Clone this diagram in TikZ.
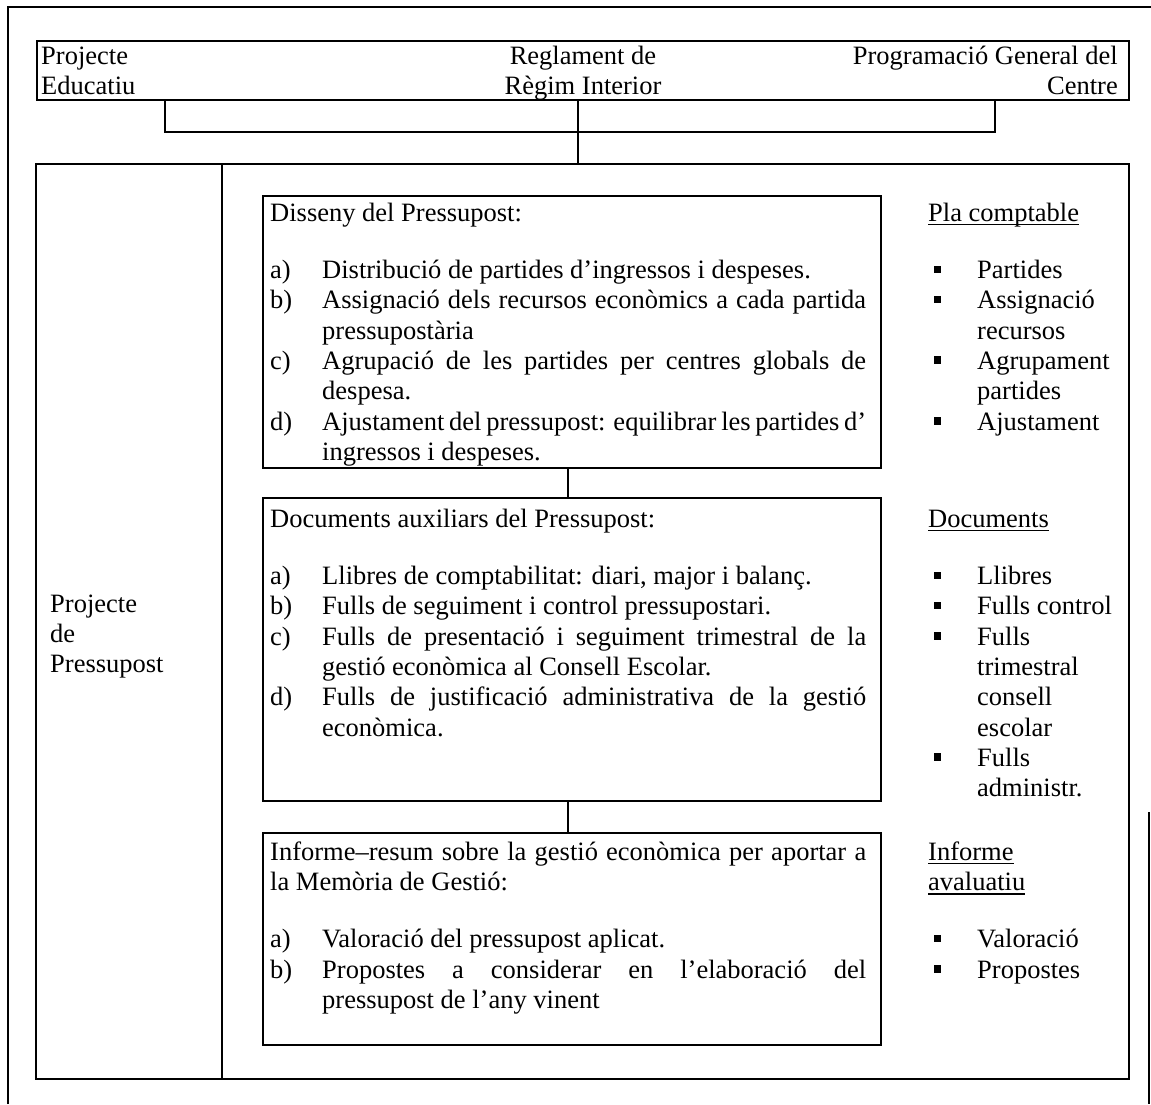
\documentclass[tikz,border=0pt]{standalone}
\usepackage{fontspec}
\setmainfont{Liberation Serif}

% body text size and line spacing
\newcommand{\bodyfont}{\fontsize{26.5pt}{30.3pt}\selectfont}
% underlined heading
\newsavebox{\headbox}
\newcommand{\ulhead}[1]{\sbox{\headbox}{#1}\rlap{\rule[-4pt]{\wd\headbox}{1.2pt}}\usebox{\headbox}}
% list label (a), b), ...) and justified list line
\newcommand{\lbl}[1]{\makebox[52pt][l]{#1}}
\newcommand{\jline}[1]{\makebox[544pt][s]{#1}}
\newcommand{\jfull}[1]{\makebox[596pt][s]{#1}}
% square bullet for the right-hand column
\newcommand{\sqb}{\makebox[49pt][l]{\hspace{6pt}\rule[5.5pt]{7pt}{7.5pt}}}
\newcommand{\ind}{\hspace*{49pt}}

\begin{document}
\begin{tikzpicture}[x=1pt,y=-1pt,
  frame/.style={line width=1.6pt},
  box/.style={draw, line width=1.6pt, inner sep=0pt, anchor=north west},
  txt/.style={inner sep=0pt, anchor=north west, align=left, font=\bodyfont},
]
\useasboundingbox (0,0) rectangle (1151,1104);

% page frame
\draw[frame] (8,1104) -- (8,7) -- (1151,7);
\draw[frame] (1149,812) -- (1149,1104);

% top documents box
\node[box, minimum width=1092pt, minimum height=59pt] (tb) at (36,40) {};
\node[txt] (tbl) at (41,42.8) {\strut Projecte\\\strut Educatiu};
\node[txt, anchor=north, align=center] (tbc) at (583,42.8) {\strut Reglament de\\\strut Règim Interior};
\node[txt, anchor=north east, align=right] (tbr) at (1118,42.8) {\strut Programació General del\\\strut Centre};

% main box with its left column
\node[box, minimum width=1093pt, minimum height=915pt] (big) at (35,163) {};
\coordinate (div) at (222,163);
\draw[frame] (big.north -| div) -- (big.south -| div);

% bracket joining the three documents
\coordinate (brl) at (165,132);
\coordinate (brr) at (995,132);
\coordinate (stem) at (578,132);
\draw[frame] (tb.south -| brl) -- (brl) -- (brr) -- (tb.south -| brr);
\draw[frame] (tb.south -| stem) -- (big.north -| stem);

\node[txt] (pp) at (50,590.8) {\strut Projecte\\\strut de\\\strut Pressupost};

% the three stage boxes
\node[box, minimum width=618pt, minimum height=272pt] (b1) at (262,195) {};
\node[box, minimum width=618pt, minimum height=303pt] (b2) at (262,497) {};
\node[box, minimum width=618pt, minimum height=212pt] (b3) at (262,832) {};
\coordinate (link) at (568,480);
\draw[frame] (b1.south -| link) -- (b2.north -| link);
\draw[frame] (b2.south -| link) -- (b3.north -| link);

\node[txt] (t1) at (270,199.8) {%
\strut Disseny del Pressupost:\\[27pt]
\strut\lbl{a)}Distribució de partides d’ingressos i despeses.\\
\strut\lbl{b)}\jline{Assignació dels recursos econòmics a cada partida}\\
\strut\lbl{}pressupostària\\
\strut\lbl{c)}\jline{Agrupació de les partides per centres globals de}\\
\strut\lbl{}despesa.\\
\strut\lbl{d)}\jline{Ajustament del pressupost: equilibrar les partides d’}\\
\strut\lbl{}ingressos i despeses.};

\node[txt] (t2) at (270,505.8) {%
\strut Documents auxiliars del Pressupost:\\[27pt]
\strut\lbl{a)}Llibres de comptabilitat: diari, major i balanç.\\
\strut\lbl{b)}Fulls de seguiment i control pressupostari.\\
\strut\lbl{c)}\jline{Fulls de presentació i seguiment trimestral de la}\\
\strut\lbl{}gestió econòmica al Consell Escolar.\\
\strut\lbl{d)}\jline{Fulls de justificació administrativa de la gestió}\\
\strut\lbl{}econòmica.};

\node[txt] (t3) at (270,838.8) {%
\strut\jfull{Informe–resum sobre la gestió econòmica per aportar a}\\
\strut la Memòria de Gestió:\\[27pt]
\strut\lbl{a)}Valoració del pressupost aplicat.\\
\strut\lbl{b)}\jline{Propostes a considerar en l’elaboració del}\\
\strut\lbl{}pressupost de l’any vinent};

% right-hand summary column
\node[txt] (r1) at (928,199.8) {%
\strut\ulhead{Pla comptable}\\[27pt]
\strut\sqb Partides\\
\strut\sqb Assignació\\
\strut\ind recursos\\
\strut\sqb Agrupament\\
\strut\ind partides\\
\strut\sqb Ajustament};

\node[txt] (r2) at (928,505.8) {%
\strut\ulhead{Documents}\\[27pt]
\strut\sqb Llibres\\
\strut\sqb Fulls control\\
\strut\sqb Fulls\\
\strut\ind trimestral\\
\strut\ind consell\\
\strut\ind escolar\\
\strut\sqb Fulls\\
\strut\ind administr.};

\node[txt] (r3) at (928,838.8) {%
\strut\ulhead{Informe}\\
\strut\ulhead{avaluatiu}\\[27pt]
\strut\sqb Valoració\\
\strut\sqb Propostes};
\end{tikzpicture}
\end{document}
